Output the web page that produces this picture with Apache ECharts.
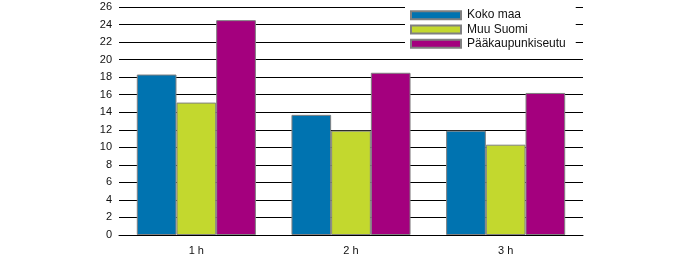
<!DOCTYPE html>
<html><head><meta charset="utf-8">
<script src="https://cdn.jsdelivr.net/npm/echarts@6/dist/echarts.min.js"></script>
<style>html,body{margin:0;padding:0;background:#fff}#c{width:694px;height:265px}</style>
</head><body><div id="c"></div>
<script>
const categories = ['1 h', '2 h', '3 h'];
const seriesNames = ['Koko maa', 'Muu Suomi', 'Pääkaupunkiseutu'];
const kokoMaa = [18.3, 13.7, 11.9];
const muuSuomi = [15.1, 11.9, 10.3];
const paakaupunkiseutu = [24.5, 18.5, 16.2];
const yTicks = [0, 2, 4, 6, 8, 10, 12, 14, 16, 18, 20, 22, 24, 26];

const colors = ['#0073b0', '#c3d82e', '#a4007e'];
const values = [kokoMaa, muuSuomi, paakaupunkiseutu];
const font = 'Liberation Sans, Arial, sans-serif';

const chart = echarts.init(document.getElementById('c'), null, {renderer: 'canvas'});
chart.setOption({
  animation: false,
  textStyle: {fontFamily: font},
  grid: {left: 119, right: 111, top: 7, bottom: 30, containLabel: false},
  legend: {
    orient: 'vertical', left: 405, top: 7,
    itemWidth: 50, itemHeight: 8, itemGap: 0,
    backgroundColor: '#fff', padding: [1, 10, 2, 5],
    textStyle: {fontSize: 12, color: '#111', fontFamily: font, lineHeight: 14.3, padding: [0, 0, 0, 1]},
    data: seriesNames.map(n => ({name: n, icon: 'rect'}))
  },
  xAxis: {
    type: 'category', data: categories,
    axisLine: {lineStyle: {color: '#000', width: 1}},
    axisTick: {show: false},
    axisLabel: {color: '#111', fontSize: 11, margin: 10, fontFamily: font}
  },
  yAxis: {
    type: 'value', min: yTicks[0], max: yTicks[yTicks.length - 1], interval: 2,
    axisLine: {show: false}, axisTick: {show: false},
    axisLabel: {color: '#111', fontSize: 11, margin: 7, fontFamily: font},
    splitLine: {lineStyle: {color: '#000', width: 1}}
  },
  series: seriesNames.map((n, i) => ({
    name: n, type: 'bar', data: values[i],
    barGap: '0%', barCategoryGap: '23%',
    itemStyle: {color: colors[i], borderColor: '#808080', borderWidth: 1}
  }))
});
</script></body></html>
